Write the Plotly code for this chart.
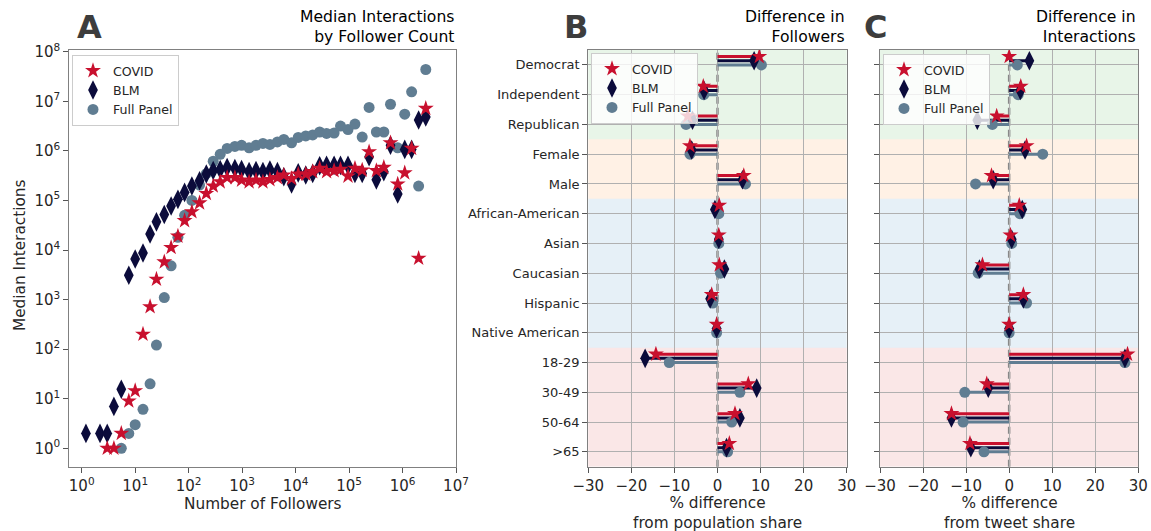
import plotly.graph_objects as go

# ---------------- Panel A data ----------------
followers = [1.2, 2.2, 3.0, 4.0, 5.5, 7.6, 10, 14, 19, 25, 35, 47, 63, 84, 115, 160, 214, 288,
             389, 525, 733, 977, 1350, 1820, 2450, 3310, 4570, 6030, 8410, 11200, 15500, 20900,
             28200, 38000, 52500, 69200, 95500, 129000, 176000, 237000, 324000, 447000, 596000,
             813000, 1100000, 1480000, 2000000, 2720000]
covid_median = [None, None, 1, 1, 2, 9, 14.5, 200, 716, 2570, 5750, 11200, 19000, 39000, 59000,
                89000, 138000, 195000, 237000, 288000, 288000, 257000, 237000, 257000, 237000,
                263000, 288000, 324000, 275000, 339000, 339000, 380000, 442000, 380000, 398000,
                422000, 309000, 442000, 407000, 955000, 398000, 462000, 1450000, 214000, 359000,
                1120000, 6800, 7160000]
blm_median = [2, 2, 2, 7, 15.5, 3100, 6600, 8700, 21000, 37000, 52000, 77000, 105000, 145000,
              195000, 250000, 340000, 400000, 420000, 460000, 440000, 420000, 380000, 400000,
              380000, 410000, 380000, 300000, 215000, 360000, 325000, 350000, 500000, 510000,
              510000, 510000, 510000, 350000, 350000, 760000, 260000, 380000, 1300000, 135000,
              1070000, 1070000, 4200000, 4800000]
panel_median = [None, None, None, None, 1, 2, 3, 6.1, 20, 121, 1100, 4800, 18000, 50000, 100000,
                204000, 347000, 617000, 851000, 1120000, 1230000, 1290000, 1150000, 1290000,
                1410000, 1350000, 1510000, 1700000, 1450000, 1860000, 2000000, 2090000, 2400000,
                2240000, 2290000, 3160000, 2690000, 3470000, 1900000, 7500000, 2400000, 2400000,
                8700000, 1150000, 5500000, 15500000, 195000, 43700000]
a_tick_vals = [10 ** k for k in range(0, 9)]
a_x_tick_vals = [10 ** k for k in range(0, 8)]

# ---------------- Panels B / C data ----------------
categories = ["Democrat", "Independent", "Republican", "Female", "Male", "African-American",
              "Asian", "Caucasian", "Hispanic", "Native American", "18-29", "30-49", "50-64", ">65"]
covid_followers = [9.7, -3.3, -6.9, -6.4, 6.1, 0.4, 0.3, 0.4, -1.35, -0.2, -14.3, 7.15, 4.06, 2.75]
blm_followers = [8.5, -3.1, -5.8, -6.0, 5.8, -0.6, 0.3, 1.6, -1.7, -0.2, -16.8, 9.1, 5.2, 2.1]
panel_followers = [10.2, -3.2, -7.3, -6.4, 6.5, 0.3, 0.3, 0.7, -1.1, -0.2, -11.2, 5.2, 3.3, 2.35]
covid_interactions = [0.0, 2.7, -2.9, 4.05, -4.1, 2.35, 0.3, -6.2, 3.3, 0.0, 27.5, -5.2, -13.4, -9.1]
blm_interactions = [4.7, 2.6, -7.4, 3.7, -3.7, 3.05, 0.6, -6.9, 3.3, 0.0, 26.9, -4.85, -13.4, -8.9]
panel_interactions = [1.9, 2.1, -3.9, 7.8, -7.8, 2.5, 0.6, -7.2, 4.05, 0.0, 26.9, -10.3, -10.7, -5.85]
diff_ticks = [-30, -20, -10, 0, 10, 20, 30]

# ---------------- styles ----------------
W, H = 1151, 531
FONT = "DejaVu Sans"
TXT = "#262626"
RED, NAVY, SLATE = "#c8102e", "#0b0b3b", "#607d92"
series_style = {
    "COVID": dict(color=RED, symbol="star", size=12, offset=-0.28),
    "BLM": dict(color=NAVY, symbol="diamond-tall", size=14, offset=-0.14),
    "Full Panel": dict(color=SLATE, symbol="circle", size=11, offset=0.0),
}
bands = [(0, 2, "rgba(44,160,44,0.11)"), (3, 4, "rgba(255,127,14,0.11)"),
         (5, 9, "rgba(31,119,180,0.11)"), (10, 13, "rgba(214,39,40,0.11)")]

def px_x(p):
    return p / W

def px_y(p):
    return 1 - p / H

Y_DOM = [px_y(466.7), px_y(50)]
fig = go.Figure()

# ---------------- Panel A traces ----------------
a_series = [("Full Panel", panel_median), ("BLM", blm_median), ("COVID", covid_median)]
rank = {"COVID": 1, "BLM": 2, "Full Panel": 3}
for name, vals in a_series:
    st = series_style[name]
    xs = [f for f, v in zip(followers, vals) if v is not None]
    ys = [v for v in vals if v is not None]
    fig.add_trace(go.Scatter(
        x=xs, y=ys, mode="markers", name=name, legendrank=rank[name], legend="legend",
        marker=dict(color=st["color"], symbol=st["symbol"], size=st["size"], line=dict(width=0)),
        xaxis="x", yaxis="y"))

# ---------------- Panels B / C traces ----------------
def add_diff_panel(xa, ya, legend, data):
    for name, vals in data:
        st = series_style[name]
        lx, ly = [], []
        for i, v in enumerate(vals):
            lx += [0, v, None]
            ly += [i + st["offset"]] * 2 + [None]
        fig.add_trace(go.Scatter(x=lx, y=ly, mode="lines", showlegend=False,
                                 line=dict(color=st["color"], width=3),
                                 xaxis=xa, yaxis=ya, hoverinfo="skip"))
    for name, vals in data:
        st = series_style[name]
        fig.add_trace(go.Scatter(
            x=vals, y=[i + st["offset"] for i in range(len(vals))], mode="markers",
            name=name, legendrank=rank[name], legend=legend,
            marker=dict(color=st["color"], symbol=st["symbol"], size=st["size"], line=dict(width=0)),
            xaxis=xa, yaxis=ya))

add_diff_panel("x2", "y2", "legend2",
               [("Full Panel", panel_followers), ("BLM", blm_followers), ("COVID", covid_followers)])
add_diff_panel("x3", "y3", "legend3",
               [("Full Panel", panel_interactions), ("BLM", blm_interactions), ("COVID", covid_interactions)])

shapes = []
for xr, yr in [("x2", "y2"), ("x3", "y3")]:
    for lo, hi, col in bands:
        shapes.append(dict(type="rect", xref=f"{xr} domain", yref=yr, x0=0, x1=1,
                           y0=lo - 0.5, y1=hi + 0.5, fillcolor=col, line=dict(width=0),
                           layer="below"))
    shapes.append(dict(type="line", xref=xr, yref=f"{yr} domain", x0=0, x1=0, y0=0, y1=1,
                       line=dict(color="#888888", width=2.5, dash="7px,4px"), layer="below"))

# ---------------- axes ----------------
sup = lambda k: f"10<sup>{k}</sup>"
axis_common = dict(showline=True, linecolor="#808080", linewidth=1.2, mirror=True,
                   ticks="outside", ticklen=5, tickcolor="#555555", zeroline=False,
                   automargin=False,
                   tickfont=dict(family=FONT, size=15, color=TXT))
layout = dict(
    width=W, height=H, margin=dict(l=0, r=0, t=0, b=0, autoexpand=False),
    paper_bgcolor="white", plot_bgcolor="white",
    font=dict(family=FONT, color=TXT),
    xaxis=dict(domain=[px_x(69.3), px_x(456)], type="log", range=[-0.232, 7.0],
               tickvals=a_x_tick_vals, ticktext=[sup(k) for k in range(0, 8)],
               showgrid=False, anchor="y", **axis_common),
    yaxis=dict(domain=Y_DOM, type="log", range=[-0.371, 8.034],
               tickvals=a_tick_vals, ticktext=[sup(k) for k in range(0, 9)],
               showgrid=False, anchor="x", **axis_common),
    shapes=shapes,
)
for n, show_lab in [(2, True), (3, False)]:
    dom = [px_x(588.3), px_x(846.7)] if n == 2 else [px_x(880), px_x(1138.3)]
    layout[f"xaxis{n}"] = dict(domain=dom, range=[-30, 30], tickvals=diff_ticks,
                               showgrid=True, gridcolor="#b0b0b0", gridwidth=1,
                               anchor=f"y{n}", **axis_common)
    yc = dict(axis_common)
    yc["tickfont"] = dict(family=FONT, size=13, color=TXT)
    layout[f"yaxis{n}"] = dict(domain=Y_DOM, range=[13.5, -0.5], tickvals=list(range(len(categories))),
                               ticktext=categories if show_lab else [""] * len(categories),
                               showticklabels=show_lab, showgrid=True, gridcolor="#b0b0b0",
                               gridwidth=1, anchor=f"x{n}", **yc)

leg_common = dict(bgcolor="rgba(255,255,255,0.8)", bordercolor="#cccccc", borderwidth=1,
                  font=dict(family=FONT, size=12.6, color=TXT), xanchor="left", yanchor="top",
                  tracegroupgap=0, itemwidth=30)
layout["legend"] = dict(x=px_x(72), y=px_y(55), **leg_common)
layout["legend2"] = dict(x=px_x(591), y=px_y(53), **leg_common)
layout["legend3"] = dict(x=px_x(883), y=px_y(54), **leg_common)

annotations = []
for letter, xp in [("A", 75), ("B", 562), ("C", 862)]:
    annotations.append(dict(text=f"<b>{letter}</b>", x=px_x(xp), y=px_y(27), xref="paper",
                            yref="paper", xanchor="left", yanchor="middle", showarrow=False,
                            font=dict(family=FONT, size=32, color="#3d3d3d")))
for txt, xp in [("Median Interactions<br>by Follower Count", 456),
                ("Difference in<br>Followers", 846.7),
                ("Difference in<br>Interactions", 1138.3)]:
    annotations.append(dict(text=txt, x=px_x(xp), y=px_y(48), xref="paper", yref="paper",
                            xanchor="right", yanchor="bottom", align="right", showarrow=False,
                            font=dict(family=FONT, size=15.6, color="black")))
annotations.append(dict(text="Number of Followers", x=px_x(262.6), y=px_y(504), xref="paper",
                        yref="paper", xanchor="center", yanchor="middle", showarrow=False,
                        font=dict(family=FONT, size=15.3, color=TXT)))
annotations.append(dict(text="Median Interactions", x=px_x(20), y=px_y(256), xref="paper",
                        yref="paper", xanchor="center", yanchor="middle", showarrow=False,
                        textangle=-90, font=dict(family=FONT, size=15.3, color=TXT)))
for txt, xp in [("% difference<br>from population share", 717.5),
                ("% difference<br>from tweet share", 1009.2)]:
    annotations.append(dict(text=txt, x=px_x(xp), y=px_y(513), xref="paper", yref="paper",
                            xanchor="center", yanchor="middle", align="center", showarrow=False,
                            font=dict(family=FONT, size=15.3, color=TXT)))
layout["annotations"] = annotations

fig.update_layout(**layout)
fig.write_html("out.html", config={"displayModeBar": False})
